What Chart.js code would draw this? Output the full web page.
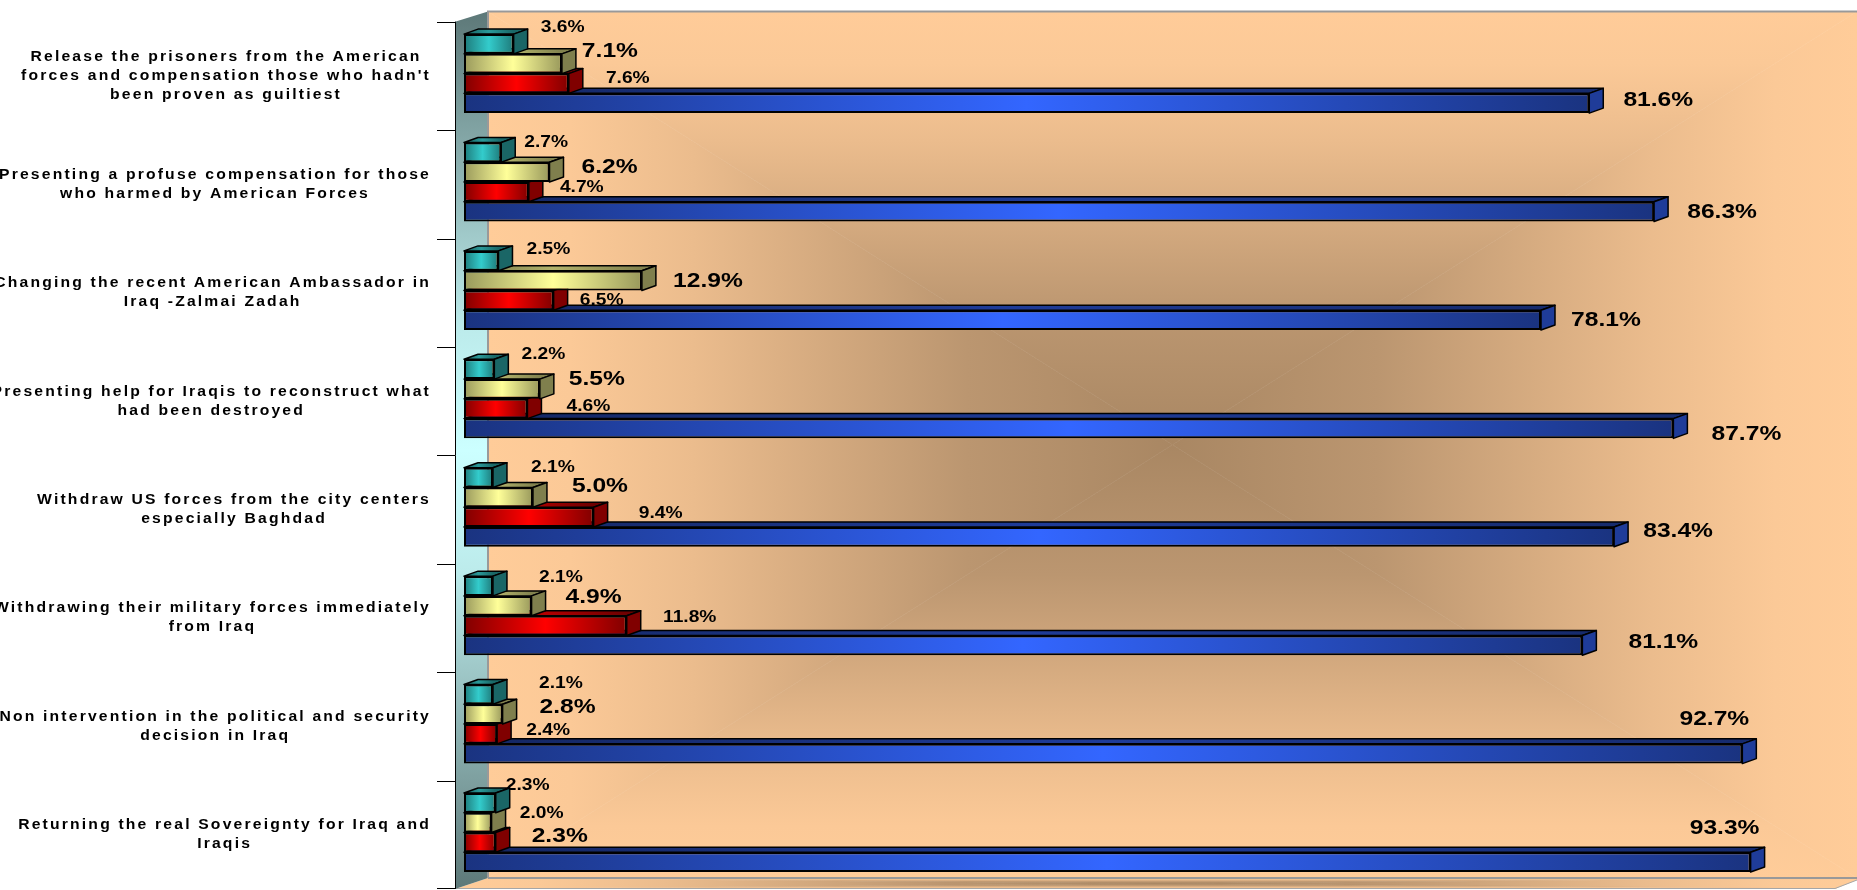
<!DOCTYPE html>
<html>
<head>
<meta charset="utf-8">
<title>Iraq survey chart</title>
<script src="https://cdn.jsdelivr.net/npm/chart.js@4/dist/chart.umd.min.js"></script>
<style>
  html, body { margin: 0; padding: 0; background: #fff; overflow: hidden; }
  canvas { display: block; }
</style>
</head>
<body>
<canvas id="chart" width="1857" height="890"></canvas>
<script>
// Data, top of chart to bottom
const categories = [
  ['Release the prisoners from the American', "forces and compensation those who hadn't", 'been proven as guiltiest'],
  ['Presenting a profuse compensation for those', 'who harmed by American Forces'],
  ['Changing the recent American Ambassador in', 'Iraq -Zalmai Zadah'],
  ['Presenting help for Iraqis to reconstruct what', 'had been destroyed'],
  ['Withdraw US forces from the city centers', 'especially Baghdad'],
  ['Withdrawing their military forces immediately', 'from Iraq'],
  ['Non intervention in the political and security', 'decision in Iraq'],
  ['Returning the real Sovereignty for Iraq and', 'Iraqis']
];
const tealValues   = [3.6, 2.7, 2.5, 2.2, 2.1, 2.1, 2.1, 2.3];
const yellowValues = [7.1, 6.2, 12.9, 5.5, 5.0, 4.9, 2.8, 2.0];
const redValues    = [7.6, 4.7, 6.5, 4.6, 9.4, 11.8, 2.4, 2.3];
const blueValues   = [81.6, 86.3, 78.1, 87.7, 83.4, 81.1, 92.7, 93.3];

// Label placement was done by hand in the original, so each label gets a nudge
// from its bar end [dx, dy] and a big/small flag
const tealNudges   = [[49,-16],[45,-10],[50,-11],[49,-15],[60,-10],[68,-8],[68,-11],[32,-17]];
const yellowNudges = [[48,-12],[60,-5],[66,1],[57,-10],[67,-11],[62,-8],[65,-7],[50,-9]];
const redNudges    = [[59,-5],[53,-4],[48,0],[61,-2],[67,-4],[63,-8],[51,-3],[64,-6]];
const blueNudges   = [[69,-3],[68,1],[65,0],[73,6],[64,-6],[81,-3],[-28,-34],[-26,-34]];
const tealBig   = [0,0,0,0,0,0,0,0];
const yellowBig = [1,1,1,1,1,1,1,0];
const redBig    = [0,0,0,0,0,0,0,1];
const blueBig   = [1,1,1,1,1,1,1,1];

const palette = [
  { end: '#1E7A7A', mid: '#33CCCC', side: '#1A6666', top: '#2A9999' },
  { end: '#99995C', mid: '#FFFF99', side: '#7F7F4D', top: '#B2B26B' },
  { end: '#800000', mid: '#FF0000', side: '#800000', top: '#B20000' },
  { end: '#1A3380', mid: '#3366FF', side: '#1F3C99', top: '#1F3C99' }
];
const nudges = [tealNudges, yellowNudges, redNudges, blueNudges];
const bigFlags = [tealBig, yellowBig, redBig, blueBig];

const FONT = '"Liberation Sans", Arial, sans-serif';
const BAR_DX = 14, BAR_DY = 5;      // depth of the bars
const TICK_SHIFT = 2.3;             // axis sits a bit lower than the bars

function barFill(c, p) {
  if (!c.parsed) return p.mid;
  const x = c.chart.scales.x;
  const x0 = x.getPixelForValue(0), x1 = x.getPixelForValue(c.parsed.x);
  // scales have no size yet on the first pass
  if (!isFinite(x0) || !isFinite(x1)) return p.mid;
  const g = c.chart.ctx.createLinearGradient(x0, 0, x1, 0);
  g.addColorStop(0, p.end);
  g.addColorStop(0.5, p.mid);
  g.addColorStop(1, p.end);
  return g;
}

function mix(a, b, t) {
  const pa = [1, 3, 5].map(i => parseInt(a.substr(i, 2), 16));
  const pb = [1, 3, 5].map(i => parseInt(b.substr(i, 2), 16));
  return 'rgb(' + pa.map((v, i) => Math.round(v + (pb[i] - v) * t)).join(',') + ')';
}

// Rectangular "from centre" gradient, same as the old Office chart fill
function pathGradient(ctx, l, t, r, b, stops) {
  const cx = (l + r) / 2, cy = (t + b) / 2;
  const sides = [
    [[l, t], [r, t], cx, t],
    [[r, t], [r, b], r, cy],
    [[r, b], [l, b], cx, b],
    [[l, b], [l, t], l, cy]
  ];
  sides.forEach(s => {
    const g = ctx.createLinearGradient(cx, cy, s[2], s[3]);
    stops.forEach(st => g.addColorStop(st[0], st[1]));
    ctx.beginPath();
    ctx.moveTo(cx, cy);
    ctx.lineTo(s[0][0], s[0][1]);
    ctx.lineTo(s[1][0], s[1][1]);
    ctx.closePath();
    ctx.fillStyle = g;
    ctx.fill();
    ctx.strokeStyle = g;
    ctx.lineWidth = 0.6;
    ctx.stroke();
  });
}

const wallStops = [[0, '#A98763'], [0.3, '#BB9670'], [0.7, '#EBBC8D'], [0.88, '#FBC997'], [1, '#FFCC99']];

function poly(ctx, pts) {
  ctx.beginPath();
  pts.forEach((p, i) => i ? ctx.lineTo(p[0], p[1]) : ctx.moveTo(p[0], p[1]));
  ctx.closePath();
}

function stretchedText(ctx, str, x, y, font, stretch, spacing) {
  ctx.save();
  ctx.font = font;
  ctx.letterSpacing = spacing + 'px';
  ctx.fillStyle = '#000';
  ctx.textAlign = 'center';
  ctx.textBaseline = 'middle';
  ctx.translate(x, y);
  ctx.scale(stretch, 1);
  ctx.fillText(str, 0, 0);
  ctx.restore();
}

const room3d = {
  id: 'room3d',
  beforeDatasetsDraw(chart) {
    const { ctx, chartArea: a, scales } = chart;
    const axisX = scales.x.getPixelForValue(0) - 9;
    const backX = axisX + 33;
    const wallR = a.right + BAR_DX;
    const frontT = a.top + TICK_SHIFT, frontB = a.bottom + TICK_SHIFT;
    const backT = a.top - 8, backB = a.bottom - 8.7;

    ctx.save();
    // back wall
    ctx.save();
    ctx.beginPath();
    ctx.rect(backX, backT, wallR - backX, backB - backT);
    ctx.clip();
    pathGradient(ctx, backX, backT, wallR, backB, wallStops);
    ctx.restore();

    // floor
    ctx.save();
    poly(ctx, [[backX, backB], [wallR, backB], [wallR, backB + 2], [a.right - 8, frontB], [axisX, frontB]]);
    ctx.clip();
    pathGradient(ctx, axisX, backB, wallR, frontB, wallStops);
    ctx.restore();
    ctx.strokeStyle = '#A6A6A6';
    ctx.lineWidth = 1;
    ctx.beginPath();
    ctx.moveTo(axisX, frontB - 0.5);
    ctx.lineTo(a.right - 8, frontB - 0.5);
    ctx.lineTo(wallR, backB + 2);
    ctx.stroke();

    // left wall
    const wg = ctx.createLinearGradient(0, backT, 0, frontB);
    wg.addColorStop(0, '#5D7878');
    wg.addColorStop(0.36, '#BCEBEB');
    wg.addColorStop(0.5, '#CCFFFF');
    wg.addColorStop(0.64, '#BCEBEB');
    wg.addColorStop(1, '#5D7878');
    poly(ctx, [[axisX, frontT], [backX, backT], [backX, backB], [axisX, frontB]]);
    ctx.fillStyle = wg;
    ctx.fill();

    // wall edges
    ctx.strokeStyle = '#999';
    ctx.lineWidth = 2;
    ctx.beginPath();
    ctx.moveTo(backX, backB);
    ctx.lineTo(backX, backT);
    ctx.lineTo(wallR, backT);
    ctx.moveTo(backX, backB);
    ctx.lineTo(wallR, backB);
    ctx.stroke();

    // axis line and tick marks, at the category boundaries of the y scale
    const y = scales.y;
    const step = (a.bottom - a.top) / categories.length;
    ctx.strokeStyle = '#000';
    ctx.lineWidth = 1;
    ctx.beginPath();
    ctx.moveTo(axisX + 0.5, frontT);
    ctx.lineTo(axisX + 0.5, frontB);
    categories.forEach((c, i) => {
      const py = Math.round(y.getPixelForValue(i) - step / 2 + TICK_SHIFT) + 0.5;
      ctx.moveTo(axisX - 18, py);
      ctx.lineTo(axisX, py);
    });
    const lastY = Math.round(a.bottom + TICK_SHIFT) - 0.5;
    ctx.moveTo(axisX - 18, lastY);
    ctx.lineTo(axisX, lastY);
    ctx.stroke();
    ctx.restore();

    // category text: right aligned block, lines centred inside it
    const catFont = 'bold 14px ' + FONT;
    const catStretch = 1.12, catSpacing = 1.95;
    categories.forEach((lines, i) => {
      ctx.save();
      ctx.font = catFont;
      ctx.letterSpacing = catSpacing + 'px';
      const widest = Math.max.apply(null, lines.map(s => ctx.measureText(s).width)) * catStretch;
      ctx.restore();
      const cx = axisX - 24 - widest / 2;
      const cy = y.getPixelForValue(i) + TICK_SHIFT;
      lines.forEach((s, k) => {
        stretchedText(ctx, s, cx, cy + (k - (lines.length - 1) / 2) * 19, catFont, catStretch, catSpacing);
      });
    });

    // value labels sit under the bars in the original
    chart.data.datasets.forEach((ds, di) => {
      chart.getDatasetMeta(di).data.forEach((bar, i) => {
        const n = nudges[di][i];
        const big = bigFlags[di][i];
        const txt = ds.data[i].toFixed(1) + '%';
        stretchedText(ctx, txt, bar.x + n[0], bar.y + n[1], 'bold ' + (big ? 20.5 : 16) + 'px ' + FONT, 1.2, 0);
      });
    });
  },
  // top and side faces go in just before each dataset's front faces
  beforeDatasetDraw(chart, args) {
    const ctx = chart.ctx;
    const p = palette[args.index];
    args.meta.data.forEach(bar => {
      const top = bar.y - bar.height / 2, bot = bar.y + bar.height / 2;
      const g = ctx.createLinearGradient(bar.base, 0, bar.x, 0);
      g.addColorStop(0, mix(p.end, '#000000', 0.25));
      g.addColorStop(0.5, p.top);
      g.addColorStop(1, mix(p.end, '#000000', 0.15));
      ctx.save();
      ctx.strokeStyle = '#000';
      ctx.lineWidth = 1.5;
      ctx.lineJoin = 'round';
      poly(ctx, [[bar.base, top], [bar.base + BAR_DX, top - BAR_DY], [bar.x + BAR_DX, top - BAR_DY], [bar.x, top]]);
      ctx.fillStyle = g;
      ctx.fill();
      ctx.stroke();
      poly(ctx, [[bar.x, top], [bar.x + BAR_DX, top - BAR_DY], [bar.x + BAR_DX, bot - BAR_DY], [bar.x, bot]]);
      ctx.fillStyle = p.side;
      ctx.fill();
      ctx.stroke();
      ctx.restore();
    });
  }
};

function makeDataset(values, i) {
  return {
    data: values,
    backgroundColor: c => barFill(c, palette[i]),
    borderColor: '#000',
    borderWidth: 2,
    borderSkipped: false,
    categoryPercentage: 0.729,
    barPercentage: 1
  };
}

new Chart(document.getElementById('chart'), {
  type: 'bar',
  data: {
    labels: categories,
    datasets: [tealValues, yellowValues, redValues, blueValues].map(makeDataset)
  },
  options: {
    indexAxis: 'y',
    responsive: false,
    animation: false,
    layout: { padding: { top: 19.4, bottom: 3.3, right: 14, left: 0 } },
    plugins: { legend: { display: false }, tooltip: { enabled: false } },
    scales: {
      x: { display: false, min: 0, max: 100 },
      y: {
        ticks: { display: false },
        grid: { display: false },
        border: { display: false },
        afterFit: s => { s.width = 464; }
      }
    }
  },
  plugins: [room3d]
});
</script>
</body>
</html>
